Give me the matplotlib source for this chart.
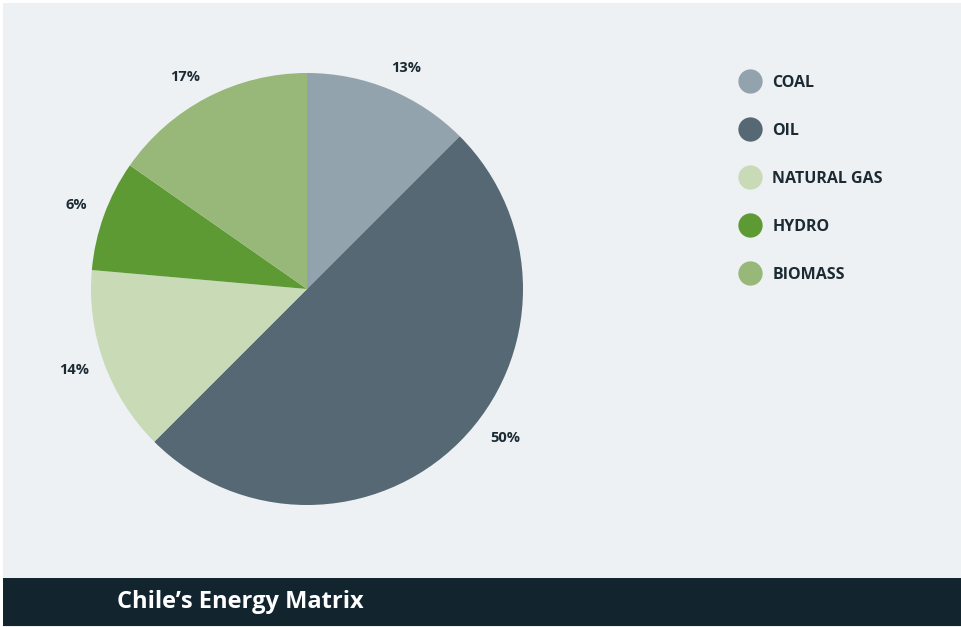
import matplotlib
matplotlib.use("Agg")
import matplotlib.pyplot as plt
from matplotlib.patches import Rectangle
from matplotlib.lines import Line2D
import numpy as np

# ---- data ----
categories = ["COAL", "OIL", "NATURAL GAS", "HYDRO", "BIOMASS"]
shares = [12.5, 50.0, 13.9, 8.3, 15.3]
pct_labels = ["13%", "50%", "14%", "6%", "17%"]  # printed labels
colors = ["#93a3ad", "#566874", "#c9dab7", "#5e9a34", "#97b878"]
title = "Chile\u2019s Energy Matrix"

W, H = 962, 627
plt.rcParams["font.family"] = ["Open Sans", "DejaVu Sans"]
fig = plt.figure(figsize=(W / 100, H / 100), dpi=100, facecolor="white")

# background panel
fig.patches.append(Rectangle((3 / W, 0), (W - 3) / W, (H - 3) / H, transform=fig.transFigure,
                             facecolor="#edf1f4", edgecolor="none", zorder=-10))
# bottom title bar
fig.patches.append(Rectangle((3 / W, 1 / H), (W - 3) / W, 48 / H, transform=fig.transFigure,
                             facecolor="#12252f", edgecolor="none", zorder=-5))
fig.text(117 / W, (H - 602) / H, title, color="white", fontsize=17, fontweight="bold",
         va="center", ha="left")

# pie axes
cx, cy, r = 307, 289, 216
ax = fig.add_axes([(cx - r) / W, (H - cy - r) / H, 2 * r / W, 2 * r / H], zorder=2)
ax.set_facecolor("none")
wedges, _ = ax.pie(shares, colors=colors, startangle=90, counterclock=False, radius=1,
                   wedgeprops=dict(linewidth=0))
ax.set_xlim(-1, 1)
ax.set_ylim(-1, 1)
ax.set_aspect("equal")
ax.axis("off")

# percentage labels around the pie
label_angle_shift = [-1.6, 8.0, -0.8, 0.0, 2.4]
label_dist = [1.12, 1.147, 1.142, 1.134, 1.133]
for w, lab, sh, d in zip(wedges, pct_labels, label_angle_shift, label_dist):
    ang = np.deg2rad((w.theta1 + w.theta2) / 2 + sh)
    ax.text(d * np.cos(ang), d * np.sin(ang), lab, ha="center", va="center",
            fontsize=10.5, fontweight="bold", color="#1b2a33", clip_on=False)

# legend
handles = [Line2D([0], [0], marker="o", linestyle="none", markersize=17.5,
                  markerfacecolor=c, markeredgecolor="none") for c in colors]
leg = fig.legend(handles, categories, loc="upper left",
                 bbox_to_anchor=(738 / W, (H - 75) / H), frameon=False,
                 labelspacing=2.0, handletextpad=0.65, handlelength=1.5,
                 borderaxespad=0, borderpad=0,
                 prop=dict(family=["Open Sans", "DejaVu Sans"], weight="bold", size=11.5))
for t in leg.get_texts():
    t.set_color("#1b2a33")

fig.savefig("out.png", dpi=100, facecolor="white")
